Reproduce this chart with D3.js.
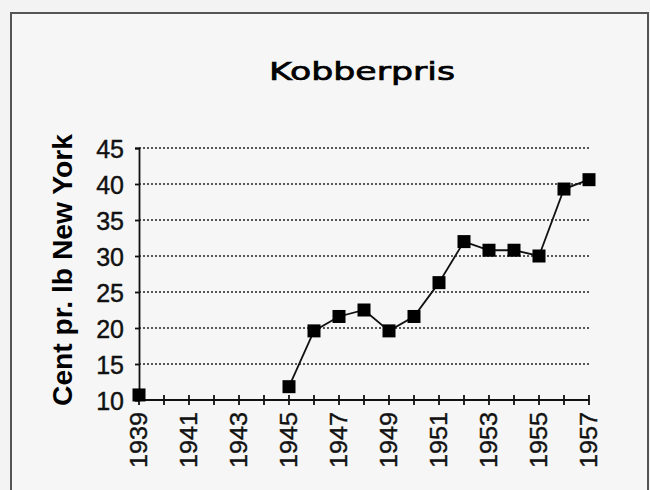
<!DOCTYPE html>
<html>
<head>
<meta charset="utf-8">
<script src="https://cdn.jsdelivr.net/npm/d3@7"></script>
<style>
  html, body { margin: 0; padding: 0; background: #f3f3f3; }
  svg { display: block; }
</style>
</head>
<body>
<script>
// ---- data ----
const years  = [1939, 1945, 1946, 1947, 1948, 1949, 1950, 1951, 1952, 1953, 1954, 1955, 1956, 1957];
const prices = [10.7, 11.85, 19.6, 21.6, 22.5, 19.6, 21.6, 26.3, 32.0, 30.8, 30.8, 30.0, 39.3, 40.6];
const yTicks = [10, 15, 20, 25, 30, 35, 40, 45];
const xTickYears = d3.range(1939, 1958);
const xLabelYears = [1939, 1941, 1943, 1945, 1947, 1949, 1951, 1953, 1955, 1957];
const title = "Kobberpris";
const yTitle = "Cent pr. lb New York";

const W = 650, H = 490;
const svg = d3.select("body").append("svg").attr("width", W).attr("height", H);

svg.append("rect").attr("width", W).attr("height", H).attr("fill", "#f3f3f3");
// frame
svg.append("rect").attr("x", 11).attr("y", 13).attr("width", 637).attr("height", 500)
  .attr("fill", "#f6f6f6").attr("stroke", "#555").attr("stroke-width", 2);

const x = d3.scaleLinear().domain([1939, 1957]).range([139, 589]);
const y = d3.scaleLinear().domain([10, 45]).range([400, 148]);

// gridlines
svg.append("g").selectAll("line").data(yTicks.filter(d => d > 10)).join("line")
  .attr("x1", x(1939)).attr("x2", x(1957))
  .attr("y1", d => y(d)).attr("y2", d => y(d))
  .attr("stroke", "#222").attr("stroke-width", 1.6).attr("stroke-dasharray", "2,2");

// y axis
const yAxis = d3.axisLeft(y).tickValues(yTicks).tickSize(4).tickPadding(11);
const gy = svg.append("g").attr("transform", `translate(${x(1939)},0)`).call(yAxis);
gy.select(".domain").attr("stroke", "#111").attr("stroke-width", 1.8);
gy.selectAll(".tick line").attr("stroke", "#111").attr("stroke-width", 1.8);
gy.selectAll(".tick text").attr("font-family", "Liberation Sans, Arial, sans-serif")
  .attr("font-size", 25).attr("fill", "#111").attr("stroke", "#111").attr("stroke-width", 0.4)
  .attr("dy", "0.36em");

// x axis (ticks crossing the axis)
const gx = svg.append("g");
gx.append("line").attr("x1", x(1939)).attr("x2", x(1957)).attr("y1", y(10)).attr("y2", y(10))
  .attr("stroke", "#111").attr("stroke-width", 1.8);
gx.selectAll("line.tk").data(xTickYears).join("line").attr("class", "tk")
  .attr("x1", d => x(d)).attr("x2", d => x(d))
  .attr("y1", y(10) - 5).attr("y2", y(10) + 5)
  .attr("stroke", "#111").attr("stroke-width", 1.8);
gx.selectAll("text").data(xLabelYears).join("text")
  .attr("transform", d => `translate(${x(d) + 8},${y(10) + 12}) rotate(-90)`)
  .attr("text-anchor", "end")
  .attr("font-family", "Liberation Sans, Arial, sans-serif").attr("font-size", 23)
  .attr("textLength", 56).attr("lengthAdjust", "spacingAndGlyphs")
  .attr("fill", "#111").attr("stroke", "#111").attr("stroke-width", 0.4)
  .text(d => d);

// line segments (gap between 1939 and 1945)
const line = d3.line().x(d => x(d[0])).y(d => y(d[1]));
const pts = years.map((yr, i) => [yr, prices[i]]);
const segs = [];
let cur = [];
pts.forEach((p, i) => {
  if (i > 0 && p[0] - pts[i - 1][0] > 1) { segs.push(cur); cur = []; }
  cur.push(p);
});
segs.push(cur);
svg.append("g").selectAll("path").data(segs).join("path")
  .attr("d", d => line(d)).attr("fill", "none").attr("stroke", "#111").attr("stroke-width", 1.8);

// markers
const ms = 13;
svg.append("g").selectAll("rect").data(pts).join("rect")
  .attr("x", d => x(d[0]) - ms / 2).attr("y", d => y(d[1]) - ms / 2)
  .attr("width", ms).attr("height", ms).attr("fill", "#000");

// title
svg.append("text").attr("x", 362).attr("y", 80).attr("text-anchor", "middle")
  .attr("font-family", "DejaVu Sans, sans-serif").attr("font-size", 25)
  .attr("textLength", 186).attr("lengthAdjust", "spacingAndGlyphs")
  .attr("fill", "#000").attr("stroke", "#000").attr("stroke-width", 0.7).text(title);

// y axis title
svg.append("text").attr("transform", "translate(72,270) rotate(-90)")
  .attr("text-anchor", "middle")
  .attr("font-family", "Liberation Sans, Arial, sans-serif").attr("font-weight", "bold")
  .attr("font-size", 27).attr("textLength", 272).attr("lengthAdjust", "spacingAndGlyphs")
  .attr("fill", "#000").text(yTitle);
</script>
</body>
</html>
